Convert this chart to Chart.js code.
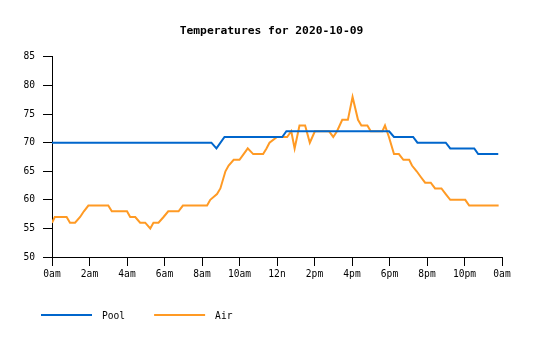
<!DOCTYPE html>
<html>
<head>
<meta charset="utf-8">
<script src="https://cdn.jsdelivr.net/npm/chart.js@4/dist/chart.umd.min.js"></script>
<style>
  html, body { margin: 0; padding: 0; background: #fff; }
  #wrap { width: 535px; height: 340px; position: relative; }
</style>
</head>
<body>
<div id="wrap"><canvas id="c" width="535" height="340"></canvas></div>
<script>
const chartTitle = 'Temperatures for 2020-10-09';
const seriesNames = ['Pool', 'Air'];
const tickHours = [0, 2, 4, 6, 8, 10, 12, 14, 16, 18, 20, 22, 24];
const tickLabels = ['0am', '2am', '4am', '6am', '8am', '10am', '12n', '2pm', '4pm', '6pm', '8pm', '10pm', '0am'];
const yTicks = [50, 55, 60, 65, 70, 75, 80, 85];

const poolHours = [0, 8.5, 8.77, 9.2, 12.28, 12.5, 17.98, 18.24, 19.26, 19.49, 21.0, 21.24, 22.52, 22.73, 23.8];
const poolTemps = [70, 70, 69, 71, 71, 72, 72, 71, 71, 70, 70, 69, 69, 68, 68];

const airHours = [0, 0.15, 0.78, 0.96, 1.23, 1.5, 1.7, 1.94, 3.0, 3.19, 4.0, 4.17, 4.44, 4.7, 4.97, 5.24, 5.41, 5.68, 5.95, 6.2, 6.75, 6.98, 8.27, 8.44, 8.8, 8.98, 9.25, 9.42, 9.69, 10.0, 10.22, 10.44, 10.73, 11.26, 11.44, 11.6, 12.0, 12.54, 12.76, 12.94, 13.2, 13.5, 13.75, 14.02, 14.77, 15.0, 15.2, 15.48, 15.78, 16.03, 16.32, 16.5, 16.82, 17.0, 17.62, 17.76, 17.97, 18.24, 18.5, 18.74, 19.05, 19.2, 19.45, 19.67, 19.9, 20.2, 20.43, 20.77, 21.0, 21.24, 22.04, 22.25, 23.82];
const airTemps = [56, 57, 57, 56, 56, 57, 58, 59, 59, 58, 58, 57, 57, 56, 56, 55, 56, 56, 57, 58, 58, 59, 59, 60, 61, 62, 65, 66, 67, 67, 68, 69, 68, 68, 69, 70, 71, 71, 72, 69, 73, 73, 70, 72, 72, 71, 72, 74, 74, 78, 74, 73, 73, 72, 72, 73, 71, 68, 68, 67, 67, 66, 65, 64, 63, 63, 62, 62, 61, 60, 60, 59, 59];

const colors = ['#0066cc', '#ff9a24'];
const monoFont = '"DejaVu Sans Mono", "Liberation Mono", monospace';

function toPoints(xs, ys) { return xs.map((x, i) => ({ x: x, y: ys[i] })); }

const titleShiftPlugin = {
  id: 'titleShift',
  afterLayout(chart) {
    if (chart.titleBlock) { chart.titleBlock.left += 41; }
  }
};

const legendPlugin = {
  id: 'bottomLegend',
  afterDraw(chart) {
    const ctx = chart.ctx;
    ctx.save();
    ctx.font = '9.6px ' + monoFont;
    ctx.textBaseline = 'middle';
    ctx.textAlign = 'left';
    let x = 41;
    const y = 315;
    chart.data.datasets.forEach(ds => {
      ctx.strokeStyle = ds.borderColor;
      ctx.lineWidth = 2;
      ctx.beginPath();
      ctx.moveTo(x, y);
      ctx.lineTo(x + 51, y);
      ctx.stroke();
      ctx.fillStyle = '#000';
      ctx.fillText(ds.label, x + 61, y + 1);
      x += 61 + ctx.measureText(ds.label).width + 29;
    });
    ctx.restore();
  }
};

new Chart(document.getElementById('c'), {
  type: 'line',
  data: {
    datasets: [
      { label: seriesNames[0], data: toPoints(poolHours, poolTemps), borderColor: colors[0], backgroundColor: colors[0], borderWidth: 2, pointRadius: 0, tension: 0, fill: false },
      { label: seriesNames[1], data: toPoints(airHours, airTemps), borderColor: colors[1], backgroundColor: colors[1], borderWidth: 2, pointRadius: 0, tension: 0, fill: false }
    ]
  },
  options: {
    responsive: false,
    animation: false,
    devicePixelRatio: 1,
    layout: { padding: { left: 0, right: 33, top: 0, bottom: 0 } },
    plugins: {
      legend: { display: false },
      tooltip: { enabled: false },
      title: {
        display: true,
        text: chartTitle,
        color: '#000',
        font: { family: monoFont, size: 11.3, weight: 'bold', lineHeight: 1.2 },
        padding: { top: 24.5, bottom: 18.9 }
      }
    },
    scales: {
      x: {
        type: 'linear',
        min: 0,
        max: 24,
        afterBuildTicks(scale) { scale.ticks = tickHours.map(v => ({ value: v })); },
        afterFit(scale) { scale.height = 83; },
        ticks: {
          autoSkip: false,
          maxRotation: 0,
          color: '#000',
          padding: 3,
          font: { family: monoFont, size: 9.6 },
          callback(value) { const i = tickHours.indexOf(value); return i >= 0 ? tickLabels[i] : ''; }
        },
        grid: { drawOnChartArea: false, drawTicks: true, tickLength: 9, color: '#000', lineWidth: 1 },
        border: { display: true, color: '#000', width: 1 }
      },
      y: {
        type: 'linear',
        min: 50,
        max: 85,
        afterBuildTicks(scale) { scale.ticks = yTicks.map(v => ({ value: v })); },
        afterFit(scale) { scale.width = 52; },
        ticks: {
          color: '#000',
          padding: 8,
          font: { family: monoFont, size: 9.6 }
        },
        grid: { drawOnChartArea: false, drawTicks: true, tickLength: 9, color: '#000', lineWidth: 1 },
        border: { display: true, color: '#000', width: 1 }
      }
    }
  },
  plugins: [titleShiftPlugin, legendPlugin]
});
</script>
</body>
</html>
